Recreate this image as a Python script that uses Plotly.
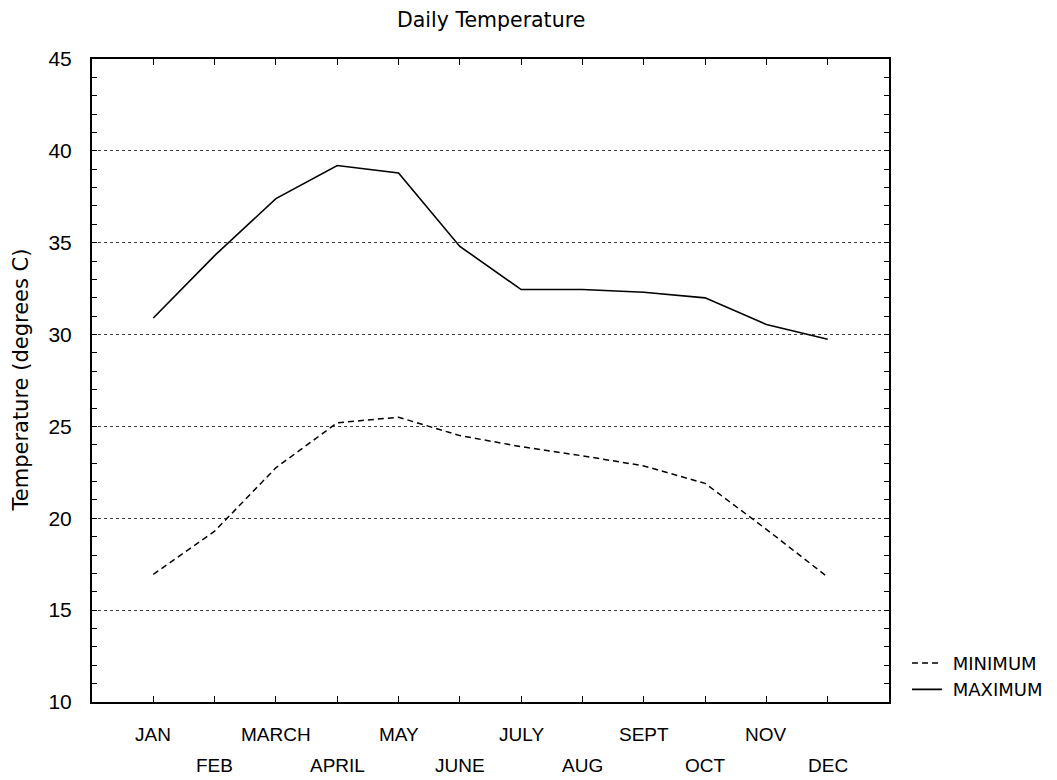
import plotly.graph_objects as go

months = ["JAN", "FEB", "MARCH", "APRIL", "MAY", "JUNE", "JULY", "AUG", "SEPT", "OCT", "NOV", "DEC"]
month_pos = list(range(1, 13))
min_temp = [16.95, 19.3, 22.75, 25.2, 25.5, 24.5, 23.9, 23.4, 22.85, 21.9, 19.4, 16.8]
max_temp = [30.9, 34.3, 37.4, 39.2, 38.8, 34.8, 32.45, 32.45, 32.3, 32.0, 30.55, 29.75]
y_ticks = [10, 15, 20, 25, 30, 35, 40, 45]

SANS = "Liberation Sans"
GEO = "DejaVu Sans"

# page has an 8px body margin; figure is sized to fit inside the window
W, H = 1049, 772
L, T = 84, 51
R, B = W - 881, H - 694

fig = go.Figure()
fig.add_trace(go.Scatter(x=month_pos, y=min_temp, mode="lines", name="&nbsp;MINIMUM",
                         line=dict(color="black", width=1.5, dash="6px,4px")))
fig.add_trace(go.Scatter(x=month_pos, y=max_temp, mode="lines", name="&nbsp;MAXIMUM",
                         line=dict(color="black", width=1.6)))

annotations = []
for i, (m, p) in enumerate(zip(months, month_pos)):
    annotations.append(dict(x=p, y=0, xref="x", yref="paper", text=m, showarrow=False,
                            yanchor="middle", yshift=-32 if i % 2 == 0 else -63,
                            font=dict(family=SANS, size=19, color="black")))
annotations.append(dict(x=0, y=0.5, xref="paper", yref="paper", text="Temperature (degrees C)",
                        showarrow=False, textangle=-90, xanchor="center", yanchor="middle",
                        xshift=-(L - 12), font=dict(family=GEO, size=21, color="black")))
annotations.append(dict(x=0.5, y=1, xref="paper", yref="paper", text="Daily Temperature",
                        showarrow=False, xanchor="center", yanchor="middle", yshift=39,
                        font=dict(family=GEO, size=20.5, color="black")))

fig.update_layout(
    width=W, height=H,
    paper_bgcolor="white", plot_bgcolor="white",
    margin=dict(l=L, r=R, t=T, b=B, autoexpand=False),
    showlegend=True,
    legend=dict(x=1.0226, y=0.04, xanchor="left", yanchor="middle", bgcolor="rgba(0,0,0,0)",
                font=dict(family=GEO, size=18, color="black"), tracegroupgap=0),
    annotations=annotations,
    xaxis=dict(range=[0, 13], tickvals=month_pos, showticklabels=False, ticks="inside", ticklen=6,
               tickcolor="black", showline=True, linecolor="black", linewidth=2, mirror="ticks",
               showgrid=False, zeroline=False),
    yaxis=dict(range=[10, 45], tickvals=y_ticks, ticks="inside", ticklen=5, tickcolor="black",
               showline=True, linecolor="black", linewidth=2, mirror="ticks",
               showgrid=True, gridcolor="rgba(0,0,0,0.75)", griddash="dot", gridwidth=1,
               zeroline=False, ticklabelstandoff=14,
               minor=dict(dtick=1, ticks="inside", ticklen=5, tickcolor="black", showgrid=False),
               tickfont=dict(family=SANS, size=21, color="black")),
)

fig.write_html("out.html")
